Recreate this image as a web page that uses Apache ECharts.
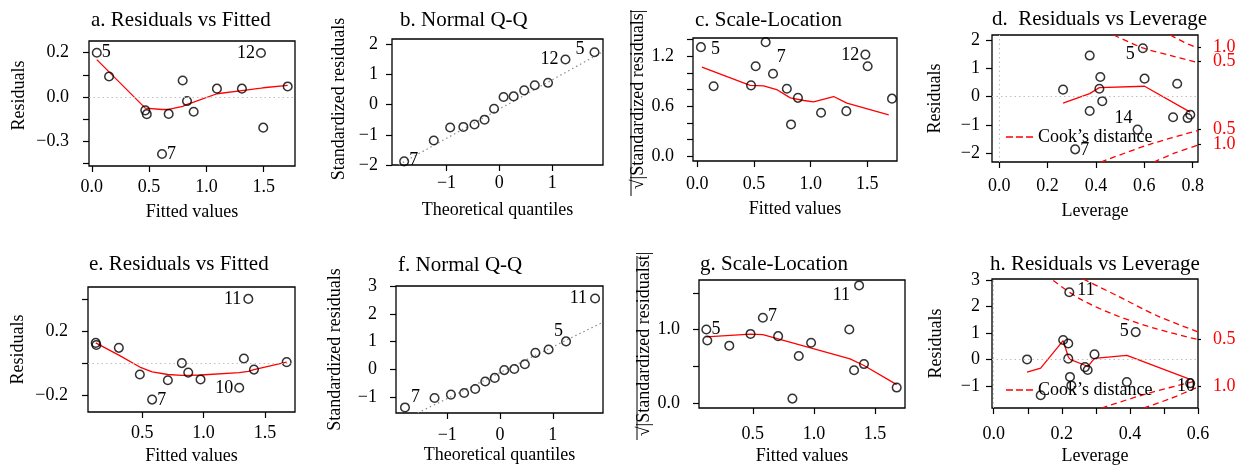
<!DOCTYPE html>
<html><head><meta charset="utf-8">
<script src="https://cdn.jsdelivr.net/npm/echarts@6/dist/echarts.min.js"></script>
<style>html,body{margin:0;padding:0;background:#fff;}#chart{width:1245px;height:466px;}</style>
</head><body><div id="chart"></div>
<script>
// ================= DATA =================
// a. Residuals vs Fitted
const fittedA = [0.044,0.151,0.467,0.480,0.613,0.671,0.793,0.831,0.889,1.092,1.310,1.476,1.496,1.709];
const residA  = [0.200,0.093,-0.060,-0.077,-0.257,-0.076,0.075,-0.018,-0.066,0.038,0.038,0.199,-0.138,0.048];
const idsA = {0:'5',4:'7',11:'12'};
const smoothAx = [0.044,0.467,0.480,0.613,0.671,0.793,0.831,0.889,1.092,1.310,1.476,1.496,1.709];
const smoothAy = [0.169,-0.050,-0.053,-0.056,-0.056,-0.042,-0.033,-0.023,0.015,0.029,0.040,0.042,0.053];
const xTicksA = [0,0.5,1,1.5], xTickTextA = ['0.0','0.5','1.0','1.5'];
const yTicksA = [0.2,0.1,0,-0.1,-0.2,-0.3], yTickTextA = ['0.2','','0.0','','−0.3',''];

// b. Normal Q-Q
const quantB  = [-1.80,-1.24,-0.93,-0.68,-0.47,-0.28,-0.10,0.08,0.27,0.47,0.67,0.92,1.25,1.80];
const stdResB = [-1.88,-1.19,-0.76,-0.74,-0.66,-0.50,-0.14,0.25,0.27,0.47,0.64,0.72,1.49,1.73];
const idsB = {0:'7',12:'12',13:'5'};
const qqLineBx = [-1.90,1.96], qqLineBy = [-1.99,1.75];
const xTicksB = [-1,0,1], xTickTextB = ['−1','0','1'];
const yTicksB = [-2,-1,0,1,2], yTickTextB = ['−2','−1','0','1','2'];

// c. Scale-Location
const fittedC = [0.032,0.144,0.474,0.515,0.603,0.668,0.790,0.827,0.888,1.092,1.315,1.483,1.503,1.718];
const sqrtStdC = [1.31,0.84,0.85,1.08,1.37,0.99,0.81,0.38,0.70,0.52,0.54,1.22,1.08,0.69];
const idsC = {0:'5',4:'7',11:'12'};
const smoothCx = [0.041,0.466,0.585,0.700,0.820,0.940,1.026,1.203,1.320,1.689];
const smoothCy = [1.07,0.85,0.845,0.80,0.70,0.668,0.652,0.716,0.636,0.495];
const xTicksC = [0,0.5,1,1.5], xTickTextC = ['0.0','0.5','1.0','1.5'];
const yTicksC = [0,0.2,0.4,0.6,0.8,1.0,1.2,1.4], yTickTextC = ['0.0','','','0.6','','','1.2',''];

// d. Residuals vs Leverage
const levD = [0.264,0.374,0.374,0.418,0.414,0.426,0.314,0.572,0.594,0.601,0.736,0.719,0.779,0.790];
const stdD = [0.25,1.46,-0.51,0.70,0.28,-0.16,-1.87,-1.17,1.72,0.64,0.46,-0.73,-0.76,-0.64];
const idsD = {6:'7',7:'14',8:'5'};
const smoothDx = [0.264,0.374,0.414,0.601,0.790];
const smoothDy = [-0.23,0.11,0.32,0.37,-0.55];
const cookD = [
  [[0.473,0.597,0.710,0.822],[2.19,1.72,1.46,1.21]],
  [[0.707,0.765,0.822],[2.19,1.93,1.72]],
  [[0.420,0.620,0.822],[-2.32,-1.70,-1.20]],
  [[0.640,0.730,0.822],[-2.32,-1.99,-1.72]]
];
// Cook's distance level labels in the right margin (two groups so that none is hidden)
const cookLabD = [[1.77,-1.70],[1.26,-1.17]], cookLabTextD = [['1.0','1.0'],['0.5','0.5']];
const xTicksD = [0,0.2,0.4,0.6,0.8], xTickTextD = ['0.0','0.2','0.4','0.6','0.8'];
const yTicksD = [-2,-1,0,1,2], yTickTextD = ['−2','−1','0','1','2'];

// e. Residuals vs Fitted
const fittedE = [0.122,0.127,0.310,0.481,0.581,0.709,0.823,0.875,0.975,1.290,1.328,1.364,1.410,1.676];
const residE  = [0.127,0.114,0.096,-0.072,-0.230,-0.108,0.000,-0.060,-0.103,-0.155,0.029,0.404,-0.041,0.006];
const idsE = {4:'7',9:'10',11:'11'};
const smoothEx = [0.122,0.310,0.481,0.581,0.709,0.823,0.875,0.975,1.290,1.364,1.410,1.676];
const smoothEy = [0.127,0.050,-0.025,-0.056,-0.072,-0.077,-0.077,-0.075,-0.060,-0.052,-0.041,0.006];
const xTicksE = [0.5,1,1.5], xTickTextE = ['0.5','1.0','1.5'];
const yTicksE = [-0.2,0,0.2,0.4], yTickTextE = ['−0.2','','0.2',''];

// f. Normal Q-Q
const quantF  = [-1.80,-1.24,-0.93,-0.68,-0.47,-0.28,-0.10,0.08,0.27,0.47,0.67,0.92,1.25,1.80];
const stdResF = [-1.36,-1.02,-0.90,-0.84,-0.70,-0.43,-0.30,-0.02,0.02,0.19,0.60,0.72,1.01,2.55];
const idsF = {0:'7',12:'5',13:'11'};
const qqLineFx = [-1.56,1.95], qqLineFy = [-1.56,1.70];
const xTicksF = [-1,0,1], xTickTextF = ['−1','0','1'];
const yTicksF = [-1,0,1,2,3], yTickTextF = ['−1','0','1','2','3'];

// g. Scale-Location
const fittedG = [0.119,0.127,0.307,0.481,0.582,0.707,0.824,0.876,0.977,1.290,1.329,1.370,1.410,1.678];
const sqrtStdG = [1.00,0.85,0.78,0.94,1.16,0.91,0.06,0.64,0.82,1.00,0.446,1.60,0.53,0.21];
const idsG = {0:'5',4:'7',11:'11'};
const smoothGx = [0.119,0.481,0.582,1.296,1.410,1.678];
const smoothGy = [0.90,0.937,0.93,0.60,0.51,0.25];
const xTicksG = [0.5,1,1.5], xTickTextG = ['0.5','1.0','1.5'];
const yTicksG = [0,0.5,1,1.5], yTickTextG = ['0.0','','1.0',''];

// h. Residuals vs Leverage
const levH = [0.098,0.138,0.204,0.219,0.222,0.219,0.224,0.228,0.268,0.276,0.296,0.391,0.417,0.577];
const stdH = [0.00,-1.35,0.73,0.60,2.53,0.03,-0.66,-0.98,-0.29,-0.40,0.19,-0.85,1.03,-0.90];
const idsH = {4:'11',12:'5',13:'10'};
const smoothHx = [0.098,0.138,0.204,0.219,0.224,0.268,0.276,0.296,0.391,0.577];
const smoothHy = [-0.48,-0.33,0.71,0.10,0.00,-0.22,-0.27,0.04,0.15,-0.75];
const cookH = [
  [[0.263,0.361,0.479,0.600],[3.03,2.41,1.65,1.04]],
  [[0.175,0.253,0.361,0.479,0.600],[2.97,2.28,1.65,1.15,0.75]],
  [[0.317,0.450,0.600],[-1.83,-1.29,-0.79]],
  [[0.440,0.518,0.600],[-1.83,-1.48,-1.04]]
];
const cookLabH = [[0.75,-1.00]], cookLabTextH = [['0.5','1.0']];
const xTicksH = [0,0.1,0.2,0.3,0.4,0.5,0.6], xTickTextH = ['0.0','','0.2','','0.4','','0.6'];
const yTicksH = [-1,0,1,2,3], yTickTextH = ['−1','0','1','2','3'];

// ================= LAYOUT / STYLE =================
const FONT = '"Liberation Serif","Times New Roman",serif';
const RED = '#ff0000';
const zip = (xs, ys) => xs.map((x, i) => [x, ys[i]]);

const panels = [
  {title:'a. Residuals vs Fitted', tpos:[91,10], box:[89,41,206,125],
   x:{min:-0.024,max:1.773,ticks:xTicksA,text:xTickTextA,name:'Fitted values',gap:37,margin:12},
   y:{min:-0.311,max:0.253,ticks:yTicksA,text:yTickTextA,name:'Residuals',gap:61,margin:20,pad:[0,0,0,16]},
   xs:fittedA, ys:residA, ids:idsA, idPos:{0:['right',[0,0]],4:['right',[0,0]],11:['left',[-1,0]]},
   smooth:zip(smoothAx,smoothAy), zeroH:true},
  {title:'b. Normal Q-Q', tpos:[400,10], box:[392,39,211,126],
   x:{min:-2.03,max:1.96,ticks:xTicksB,text:xTickTextB,name:'Theoretical quantiles',gap:36,margin:9},
   y:{min:-2.0,max:2.17,ticks:yTicksB,text:yTickTextB,name:'Standardized residuals',gap:44,margin:14,pad:[0,0,0,6]},
   xs:quantB, ys:stdResB, ids:idsB, idPos:{0:['right',[0,-1]],12:['left',[-2,0]],13:['left',[-5,-3]]},
   qq:zip(qqLineBx,qqLineBy)},
  {title:'c. Scale-Location', tpos:[695,10], box:[693,38,204,123],
   x:{min:-0.038,max:1.762,ticks:xTicksC,text:xTickTextC,name:'Fitted values',gap:39,margin:14},
   y:{min:-0.06,max:1.42,ticks:yTicksC,text:yTickTextC,name:'√|Standardized residuals|',gap:41,margin:19},
   xs:fittedC, ys:sqrtStdC, ids:idsC, idPos:{0:['right',[5,2]],4:['right',[6,15]],11:['left',[-1,1]]},
   smooth:zip(smoothCx,smoothCy)},
  {title:'d.  Residuals vs Leverage', tpos:[992,9], box:[992,35,206,127],
   x:{min:-0.030,max:0.822,ticks:xTicksD,text:xTickTextD,name:'Leverage',gap:40,margin:15},
   y:{min:-2.32,max:2.19,ticks:yTicksD,text:yTickTextD,name:'Residuals',gap:48,margin:12},
   xs:levD, ys:stdD, ids:idsD, idPos:{6:['right',[0,1]],7:['left',[0,-11]],8:['left',[-3,6]]},
   smooth:zip(smoothDx,smoothDy), zeroH:true, zeroV:true, cook:cookD, cookLab:[cookLabD,cookLabTextD],
   legendPos:[1006,128]},
  {title:'e. Residuals vs Fitted', tpos:[89,254], box:[88,287,207,126],
   x:{min:0.059,max:1.744,ticks:xTicksE,text:xTickTextE,name:'Fitted values',gap:35,margin:12},
   y:{min:-0.308,max:0.479,ticks:yTicksE,text:yTickTextE,name:'Residuals',gap:61,margin:20},
   xs:fittedE, ys:residE, ids:idsE, idPos:{4:['right',[0,1]],9:['left',[-1,1]],11:['left',[-2,0]]},
   smooth:zip(smoothEx,smoothEy), zeroH:true},
  {title:'f. Normal Q-Q', tpos:[398,255], box:[396,286,207,127],
   x:{min:-1.97,max:1.95,ticks:xTicksF,text:xTickTextF,name:'Theoretical quantiles',gap:33,margin:13},
   y:{min:-1.56,max:3.0,ticks:yTicksF,text:yTickTextF,name:'Standardized residuals',gap:52,margin:19},
   xs:quantF, ys:stdResF, ids:idsF, idPos:{0:['right',[1,-10]],12:['left',[2,-10]],13:['left',[-3,0]]},
   qq:zip(qqLineFx,qqLineFy)},
  {title:'g. Scale-Location', tpos:[700,254], box:[699,280,206,128],
   x:{min:0.059,max:1.746,ticks:xTicksG,text:xTickTextG,name:'Fitted values',gap:39,margin:17},
   y:{min:-0.068,max:1.674,ticks:yTicksG,text:yTickTextG,name:'√|Standardized residualst|',gap:43,margin:19},
   xs:fittedG, ys:sqrtStdG, ids:idsG, idPos:{0:['right',[0,0]],4:['right',[0,-2]],11:['left',[-4,10]]},
   smooth:zip(smoothGx,smoothGy)},
  {title:'h. Residuals vs Leverage', tpos:[990,254], box:[992,279,206,130],
   x:{min:-0.005,max:0.60,ticks:xTicksH,text:xTickTextH,name:'Leverage',gap:39,margin:17},
   y:{min:-1.83,max:3.03,ticks:yTicksH,text:yTickTextH,name:'Residuals',gap:47,margin:12},
   xs:levH, ys:stdH, ids:idsH, idPos:{4:['right',[3,-2]],12:['left',[-2,-1]],13:['left',[10,3]]},
   smooth:zip(smoothHx,smoothHy), zeroH:true, zeroV:true, cook:cookH, cookLab:[cookLabH,cookLabTextH],
   legendPos:[1006,381]}
];

const grids=[], xAxes=[], yAxes=[], series=[], titles=[], legends=[];
const txt = (size, color) => ({fontSize:size, fontFamily:FONT, color:color||'#000', fontWeight:'normal'});
function labelCfg(ticks, texts){
  return {
    customValues: ticks.filter((t,i)=>texts[i]!==''),
    hideOverlap:false,
    formatter: v => { const i = ticks.findIndex(t=>Math.abs(t-v)<1e-9); return i>=0 ? texts[i] : ''; }
  };
}
panels.forEach((P, gi) => {
  grids.push({left:P.box[0], top:P.box[1], width:P.box[2], height:P.box[3], show:true,
    borderColor:'#000', borderWidth:1.3, backgroundColor:'transparent'});
  titles.push({text:P.title, left:P.tpos[0], top:P.tpos[1], padding:0, textStyle:txt(21)});
  const tick = {show:true, length:6, lineStyle:{color:'#000', width:1.2}};
  xAxes.push({type:'value', gridIndex:gi, min:P.x.min, max:P.x.max, position:'bottom',
    name:P.x.name, nameLocation:'middle', nameGap:P.x.gap, nameTextStyle:txt(18),
    axisLine:{show:false, onZero:false}, splitLine:{show:false},
    axisTick:Object.assign({customValues:P.x.ticks}, tick),
    axisLabel:Object.assign(labelCfg(P.x.ticks, P.x.text), {margin:P.x.margin}, txt(18))});
  const yIdx = yAxes.length;
  yAxes.push({type:'value', gridIndex:gi, min:P.y.min, max:P.y.max, position:'left',
    name:P.y.name, nameLocation:'middle', nameGap:P.y.gap,
    nameTextStyle:Object.assign({padding:P.y.pad || 0}, txt(18)),
    axisLine:{show:false, onZero:false}, splitLine:{show:false},
    axisTick:Object.assign({customValues:P.y.ticks}, tick),
    axisLabel:Object.assign(labelCfg(P.y.ticks, P.y.text), {margin:P.y.margin}, txt(18))});
  if (P.cookLab) {
    P.cookLab[0].forEach((vals, k) => {
      yAxes.push({type:'value', gridIndex:gi, position:'right', offset:0, min:P.y.min, max:P.y.max,
        axisLine:{show:false, onZero:false}, splitLine:{show:false},
        axisTick:{show:true, length:3, customValues:vals, lineStyle:{color:'#000', width:1.2}},
        axisLabel:Object.assign(labelCfg(vals, P.cookLab[1][k]), {margin:15}, txt(18, RED))});
    });
  }
  const ml = [];
  if (P.zeroH) ml.push({yAxis:0});
  if (P.zeroV) ml.push({xAxis:0});
  if (P.smooth) series.push({type:'line', xAxisIndex:gi, yAxisIndex:yIdx, data:P.smooth,
    symbol:'none', lineStyle:{color:RED, width:1.3}, z:3, silent:true});
  if (P.qq) series.push({type:'line', xAxisIndex:gi, yAxisIndex:yIdx, data:P.qq,
    symbol:'none', lineStyle:{color:'#8c8c8c', width:1.2, type:[1.5,3]}, z:2, silent:true});
  if (P.cook) P.cook.forEach(c => series.push({type:'line', name:'Cook’s distance', xAxisIndex:gi, yAxisIndex:yIdx,
    data:zip(c[0], c[1]), smooth:0.3, symbol:'none', color:RED, itemStyle:{color:RED},
    lineStyle:{color:RED, width:1.3, type:[6,4]}, z:2, silent:true}));
  series.push({type:'scatter', xAxisIndex:gi, yAxisIndex:yIdx, symbol:'circle', symbolSize:8.6,
    itemStyle:{color:'rgba(0,0,0,0)', borderColor:'#000', borderWidth:1.5}, z:4, silent:true,
    markLine: ml.length ? {silent:true, symbol:'none', label:{show:false},
      lineStyle:{color:'#c0c0c0', width:1, type:[1.5,3]}, data:ml} : undefined,
    data: P.xs.map((x, i) => {
      const d = {value:[x, P.ys[i]]};
      if (P.ids[i] !== undefined) {
        const pos = P.idPos[i];
        d.label = Object.assign({show:true, formatter:P.ids[i], position:pos[0], distance:0, offset:pos[1],
          textBorderWidth:0, opacity:1}, txt(18));
      }
      return d;
    })});
  if (P.legendPos) legends.push({
    data:[{name:'Cook’s distance', icon:'path://M0,0h7v1.3h-7z M10,0h7v1.3h-7z M20,0h7v1.3h-7z'}],
    left:P.legendPos[0], top:P.legendPos[1], padding:0, itemWidth:27, itemHeight:1.3,
    selectedMode:false, textStyle:txt(18)});
});

const chart = echarts.init(document.getElementById('chart'), null, {renderer:'canvas'});
chart.setOption({
  animation:false, backgroundColor:'#fff',
  title:titles, grid:grids, xAxis:xAxes, yAxis:yAxes, series:series, legend:legends,
  graphic:[
    {type:'line', shape:{x1:631, y1:10, x2:631, y2:196}, style:{stroke:'#000', lineWidth:1}},
    {type:'line', shape:{x1:637, y1:256, x2:637, y2:440}, style:{stroke:'#000', lineWidth:1}}
  ]
});
</script></body></html>
